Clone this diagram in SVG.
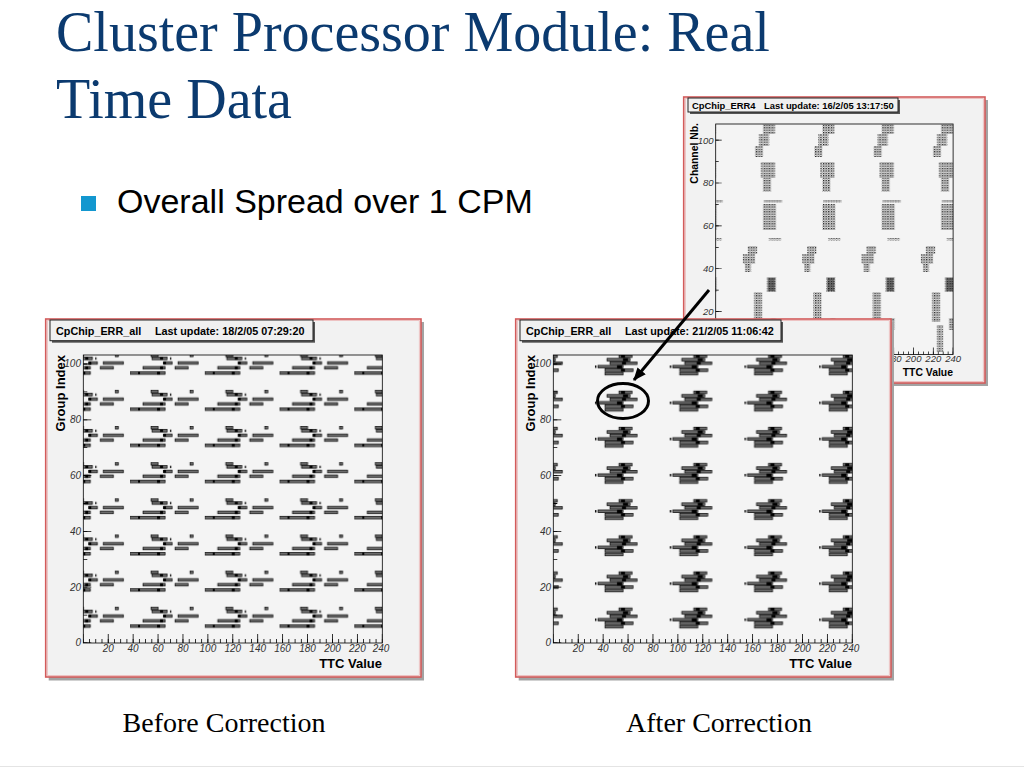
<svg xmlns="http://www.w3.org/2000/svg" width="1024" height="768" viewBox="0 0 1024 768">
<style>
.ttl{font-family:"Liberation Serif","Times New Roman",serif;fill:#0b3a6f;font-size:56px}
.cap{font-family:"Liberation Serif","Times New Roman",serif;fill:#000;font-size:28px}
.bul{font-family:"Liberation Sans",Arial,sans-serif;font-size:34px;fill:#000}
.frame{fill:#f2f2f2;stroke:#d35b5b;stroke-width:1.6}
.frin{fill:none;stroke:#ecb6b6;stroke-width:0.8}
.shadow{fill:#a3a3a3}
.tbox{fill:#f0f0f0;stroke:#222;stroke-width:1}
.tshadow{fill:#555}
.tt{font-family:"Liberation Sans",Arial,sans-serif;font-weight:bold;font-size:10.8px;fill:#000}
.tts{font-family:"Liberation Sans",Arial,sans-serif;font-weight:bold;font-size:9.4px;fill:#000}
.parea{fill:#f4f4f4}
.pborder{fill:none;stroke:#000;stroke-width:0.8}
.tick{stroke:#000;fill:none}
.lab{font-family:"Liberation Sans",Arial,sans-serif;font-style:italic;font-size:10px;fill:#333}
.labs{font-family:"Liberation Sans",Arial,sans-serif;font-style:italic;font-size:9.5px;fill:#333}
.axt{font-family:"Liberation Sans",Arial,sans-serif;font-weight:bold;font-size:13px;fill:#000}
.axs{font-family:"Liberation Sans",Arial,sans-serif;font-weight:bold;font-size:10.4px;fill:#000}
.bar{fill:#6e6e6e;stroke:#000;stroke-width:0.7}
.blk{fill:#000}
.spk{fill:url(#pS)}
</style>
<defs>
<pattern id="pS" patternUnits="userSpaceOnUse" width="2.6" height="2.4">
<rect width="1.3" height="1.2" fill="#000"/><rect x="1.4" y="1.2" width="0.9" height="0.9" fill="#444"/>
</pattern>
<pattern id="pB" patternUnits="userSpaceOnUse" x="55.3" y="345.9" width="74.75" height="36.15">
<rect class="bar" x="21" y="8.4" width="7" height="2.4"/>
<rect class="bar" x="60" y="8.4" width="3" height="2.4"/>
<rect class="bar" x="22" y="11.2" width="15" height="2.6"/>
<rect class="bar" x="34" y="15.8" width="8" height="2.6"/>
<rect class="bar" x="48" y="15.8" width="20" height="2.6"/>
<rect class="bar" x="13" y="20.6" width="22" height="2.6"/>
<rect class="bar" x="45" y="20.6" width="13" height="2.6"/>
<rect class="bar" x="0" y="25.8" width="35" height="2.6"/>
<rect class="blk" x="30" y="11.2" width="3" height="2.6"/>
<rect class="blk" x="33" y="15.6" width="3" height="3"/>
<rect class="blk" x="30" y="20.4" width="3" height="3.2"/>
<rect class="blk" x="27" y="25.6" width="3" height="3"/>
<rect class="blk" x="40" y="11.4" width="1.2" height="2.4"/>
<rect class="blk" x="8" y="25.8" width="2" height="2.6"/>
</pattern>
<pattern id="pA" patternUnits="userSpaceOnUse" x="583" y="345.9" width="74.75" height="36.15">
<rect class="bar" x="36" y="9" width="13" height="2.6"/>
<rect class="bar" x="24" y="12.5" width="23" height="2.6"/>
<rect class="bar" x="27" y="16" width="27" height="2.6"/>
<rect class="bar" x="15" y="19.5" width="25" height="2.6"/>
<rect class="bar" x="22" y="23" width="28" height="2.6"/>
<rect class="bar" x="22" y="26.5" width="18" height="2.6"/>
<rect class="blk" x="38" y="8.8" width="4" height="3"/>
<rect class="blk" x="40" y="12.3" width="5" height="3"/>
<rect class="blk" x="39" y="15.8" width="4" height="3"/>
<rect class="blk" x="34" y="19.3" width="5" height="3.4"/>
<rect class="blk" x="38" y="22.8" width="4" height="3"/>
<rect class="blk" x="12" y="19.6" width="1.4" height="2.4"/>
</pattern>
<pattern id="pE" patternUnits="userSpaceOnUse" x="735" y="120" width="59.34" height="240">
<rect class="spk" x="28" y="4" width="12" height="10"/>
<rect class="spk" x="24" y="14" width="10" height="12"/>
<rect class="spk" x="20" y="26" width="8" height="11"/>
<rect class="spk" x="26" y="42" width="14" height="16"/>
<rect class="spk" x="28" y="58" width="8" height="14"/>
<rect class="spk" x="29" y="80" width="18" height="2.4"/>
<rect class="spk" x="28" y="84" width="13" height="26"/>
<rect class="spk" x="34" y="118" width="12" height="2.4"/>
<rect class="spk" x="13" y="126" width="9" height="8"/>
<rect class="spk" x="8" y="134" width="12" height="10"/>
<rect class="spk" x="10" y="144" width="6" height="8"/>
<rect class="spk" x="32" y="157" width="9" height="15"/>
<rect x="33" y="158" width="7" height="13" fill="#000" opacity="0.45"/>
<rect class="spk" x="19" y="172" width="8" height="30"/>
<rect class="spk" x="36" y="198" width="5" height="12"/>
<rect class="spk" x="24" y="205" width="6" height="27"/>
</pattern>
<marker id="ah" viewBox="0 0 12 10" refX="11" refY="5" markerWidth="13" markerHeight="11" markerUnits="userSpaceOnUse" orient="auto">
<path d="M0,0 L12,5 L0,10 z" fill="#000"/>
</marker>
</defs>

<rect x="0" y="0" width="1024" height="768" fill="#fff"/>

<g id="title">
<text class="ttl" x="56" y="51">Cluster Processor Module: Real</text>
<text class="ttl" x="56" y="118">Time Data</text>
</g>

<g id="bullet">
<rect x="81" y="196" width="15" height="15" fill="#1397cf"/>
<text class="bul" x="117" y="213">Overall Spread over 1 CPM</text>
</g>

<g id="plot-err4">
<rect class="shadow" x="686.7" y="100" width="301.3" height="286"/>
<rect class="frame" x="683.7" y="97" width="301.3" height="286"/>
<rect class="frin" x="685.3" y="98.6" width="298" height="282.8"/>
<rect class="tshadow" x="690" y="100" width="210" height="14"/>
<rect class="tbox" x="688" y="98" width="210" height="14"/>
<text class="tts" x="692" y="108.6">CpChip_ERR4</text>
<text class="tts" x="764" y="108.6">Last update: 16/2/05 13:17:50</text>
<rect class="parea" x="715.7" y="124" width="237.4" height="230.5"/>
<rect x="715.7" y="124" width="237.4" height="230.5" fill="url(#pE)"/>
<line class="tick" x1="715.7" y1="353" x2="953.1" y2="353" stroke-width="3" stroke-dasharray="0.7 4.245" stroke-dashoffset="0.35"/>
<line class="tick" x1="715.7" y1="351" x2="953.1" y2="351" stroke-width="7" stroke-dasharray="0.7 19.08" stroke-dashoffset="0.35"/>
<line class="tick" x1="717.2" y1="354.5" x2="717.2" y2="124" stroke-width="3" stroke-dasharray="0.7 20.74" stroke-dashoffset="0.35"/>
<line class="tick" x1="718.7" y1="354.5" x2="718.7" y2="124" stroke-width="6" stroke-dasharray="0.7 42.18" stroke-dashoffset="0.35"/>
<rect class="pborder" x="715.7" y="124" width="237.4" height="230.5"/>
<g class="labs" text-anchor="end">
<text x="713.5" y="143.5">100</text>
<text x="713.5" y="186.4">80</text>
<text x="713.5" y="229.2">60</text>
<text x="713.5" y="272.1">40</text>
<text x="713.5" y="315">20</text>
</g>
<g class="labs" text-anchor="middle">
<text x="873.9" y="362">160</text>
<text x="893.7" y="362">180</text>
<text x="913.5" y="362">200</text>
<text x="933.3" y="362">220</text>
<text x="953.1" y="362">240</text>
</g>
<text class="axs" x="953" y="376" text-anchor="end">TTC Value</text>
<text class="axs" transform="translate(698,123) rotate(-90)" text-anchor="end">Channel Nb.</text>
</g>

<g id="plot-before">
<rect class="shadow" x="48.7" y="322" width="375.3" height="358.5"/>
<rect class="frame" x="45.7" y="319" width="375.3" height="358"/>
<rect class="frin" x="47.3" y="320.6" width="372" height="354.8"/>
<rect class="tshadow" x="52" y="322" width="263" height="20.7"/>
<rect class="tbox" x="50" y="320" width="263" height="20.7"/>
<text class="tt" x="56" y="334.5">CpChip_ERR_all</text>
<text class="tt" x="155" y="334.5">Last update: 18/2/05 07:29:20</text>
<rect class="parea" x="83.3" y="355" width="299" height="288"/>
<rect x="83.3" y="355" width="299" height="288" fill="url(#pB)"/>
<line class="tick" x1="83.3" y1="641" x2="382.3" y2="641" stroke-width="4" stroke-dasharray="0.8 5.429" stroke-dashoffset="0.4"/>
<line class="tick" x1="83.3" y1="638.5" x2="382.3" y2="638.5" stroke-width="9" stroke-dasharray="0.8 24.116" stroke-dashoffset="0.4"/>
<line class="tick" x1="85.3" y1="643" x2="85.3" y2="355" stroke-width="4" stroke-dasharray="0.8 27.1" stroke-dashoffset="0.4"/>
<line class="tick" x1="87.3" y1="643" x2="87.3" y2="355" stroke-width="8" stroke-dasharray="0.8 55" stroke-dashoffset="0.4"/>
<rect class="pborder" x="83.3" y="355" width="299" height="288"/>
<g class="lab" text-anchor="end">
<text x="81" y="367.4">100</text>
<text x="81" y="423.2">80</text>
<text x="81" y="479">60</text>
<text x="81" y="534.8">40</text>
<text x="81" y="590.6">20</text>
<text x="81" y="645.5">0</text>
</g>
<g class="lab" text-anchor="middle">
<text x="108.2" y="652">20</text>
<text x="133.1" y="652">40</text>
<text x="158" y="652">60</text>
<text x="183" y="652">80</text>
<text x="207.9" y="652">100</text>
<text x="232.8" y="652">120</text>
<text x="257.7" y="652">140</text>
<text x="282.6" y="652">160</text>
<text x="307.5" y="652">180</text>
<text x="332.5" y="652">200</text>
<text x="357.4" y="652">220</text>
<text x="381" y="652">240</text>
</g>
<text class="axt" x="382" y="668" text-anchor="end">TTC Value</text>
<text class="axt" transform="translate(65,355) rotate(-90)" text-anchor="end">Group Index</text>
</g>

<g id="plot-after">
<rect class="shadow" x="518.7" y="322" width="375.3" height="358.5"/>
<rect class="frame" x="515.7" y="319" width="375.3" height="358"/>
<rect class="frin" x="517.3" y="320.6" width="372" height="354.8"/>
<rect class="tshadow" x="522" y="322" width="261" height="20.7"/>
<rect class="tbox" x="520" y="320" width="261" height="20.7"/>
<text class="tt" x="526" y="334.5">CpChip_ERR_all</text>
<text class="tt" x="625" y="334.5">Last update: 21/2/05 11:06:42</text>
<rect class="parea" x="553.3" y="355" width="299" height="288"/>
<rect x="553.3" y="355" width="299" height="288" fill="url(#pA)"/>
<line class="tick" x1="553.3" y1="641" x2="852.3" y2="641" stroke-width="4" stroke-dasharray="0.8 5.429" stroke-dashoffset="0.4"/>
<line class="tick" x1="553.3" y1="638.5" x2="852.3" y2="638.5" stroke-width="9" stroke-dasharray="0.8 24.116" stroke-dashoffset="0.4"/>
<line class="tick" x1="555.3" y1="643" x2="555.3" y2="355" stroke-width="4" stroke-dasharray="0.8 27.1" stroke-dashoffset="0.4"/>
<line class="tick" x1="557.3" y1="643" x2="557.3" y2="355" stroke-width="8" stroke-dasharray="0.8 55" stroke-dashoffset="0.4"/>
<rect class="pborder" x="553.3" y="355" width="299" height="288"/>
<g class="lab" text-anchor="end">
<text x="551" y="367.4">100</text>
<text x="551" y="423.2">80</text>
<text x="551" y="479">60</text>
<text x="551" y="534.8">40</text>
<text x="551" y="590.6">20</text>
<text x="551" y="645.5">0</text>
</g>
<g class="lab" text-anchor="middle">
<text x="578.2" y="652">20</text>
<text x="603.1" y="652">40</text>
<text x="628" y="652">60</text>
<text x="653" y="652">80</text>
<text x="677.9" y="652">100</text>
<text x="702.8" y="652">120</text>
<text x="727.7" y="652">140</text>
<text x="752.6" y="652">160</text>
<text x="777.5" y="652">180</text>
<text x="802.5" y="652">200</text>
<text x="827.4" y="652">220</text>
<text x="851" y="652">240</text>
</g>
<text class="axt" x="852" y="668" text-anchor="end">TTC Value</text>
<text class="axt" transform="translate(535,355) rotate(-90)" text-anchor="end">Group Index</text>
</g>

<g id="highlight">
<ellipse cx="623" cy="401" rx="25.5" ry="17.5" fill="none" stroke="#000" stroke-width="3"/>
</g>

<g id="connectors">
<line x1="709" y1="290" x2="634" y2="380" stroke="#000" stroke-width="3" marker-end="url(#ah)"/>
</g>

<g id="captions">
<text class="cap" x="224" y="732" text-anchor="middle">Before Correction</text>
<text class="cap" x="719" y="732" text-anchor="middle">After Correction</text>
</g>

<line x1="0" y1="766.5" x2="1024" y2="766.5" stroke="#e4e4e4" stroke-width="1"/>
</svg>
